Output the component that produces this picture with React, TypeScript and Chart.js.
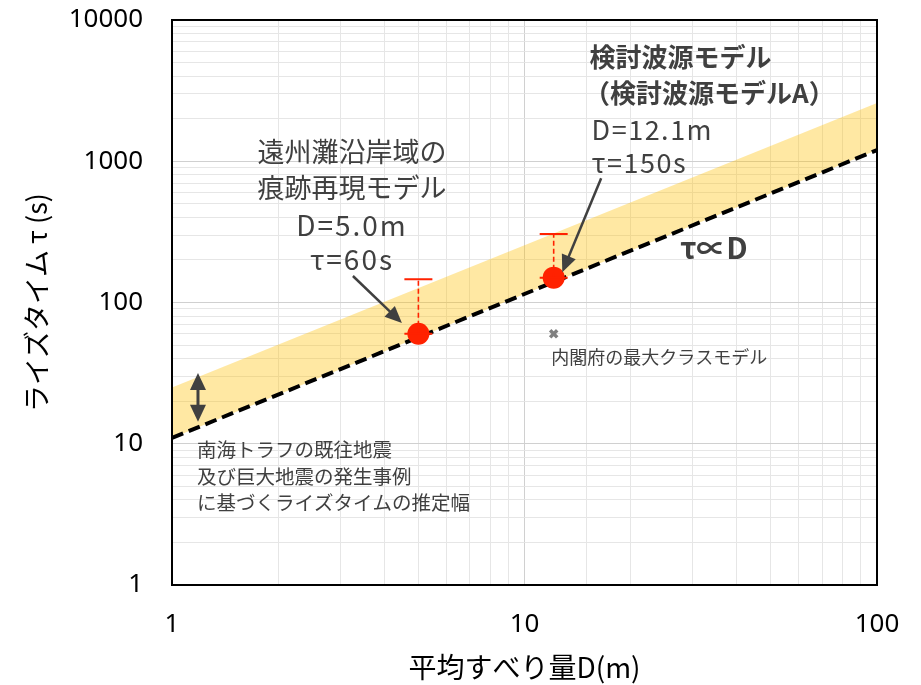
import { useEffect, useRef } from 'react';
import { Chart, registerables } from 'chart.js';

Chart.register(...registerables);

// ---- axis ranges / ticks ----
const xRange = [1, 100];
const yRange = [1, 10000];
const majorTickValues = [1, 10, 100, 1000, 10000];

// ---- proportional relation τ ∝ D (dashed line) ----
const proportionalD = [1, 100];
const proportionalTau = [11, 1200];
// ---- upper edge of the estimated rise-time band ----
const bandUpperTau = [25, 2580];

// ---- models (red points) ----
const modelD = [5.0, 12.1];
const modelTau = [60, 150];
const modelTauHigh = [146, 305];

// ---- Cabinet Office max-class model (grey cross) ----
const cabinetD = [12.1];
const cabinetTau = [60];

const TEXT = '#404040';
const CJK = "'Noto Sans CJK JP', 'Noto Sans', sans-serif";
const NUM = "'Noto Sans', 'Liberation Sans', sans-serif";

type Block = { lines: string[]; at: [number, number]; align: CanvasTextAlign; font: string; lh: number; ls?: string };
const textBlocks: Block[] = [
  { lines: ['遠州灘沿岸域の', '痕跡再現モデル'], at: [3.24, 1159], align: 'center', font: `27px ${CJK}`, lh: 35.3 },
  { lines: ['D=5.0m', 'τ=60s'], at: [3.24, 353], align: 'center', font: `28px ${CJK}`, lh: 34, ls: '2px' },
  { lines: ['検討波源モデル'], at: [15.3, 5457], align: 'left', font: `bold 26px ${CJK}`, lh: 36 },
  { lines: ['（検討波源モデルA）'], at: [14.75, 3034], align: 'left', font: `bold 26px ${CJK}`, lh: 36 },
  { lines: ['D=12.1m', 'τ=150s'], at: [15.5, 1660], align: 'left', font: `27px ${CJK}`, lh: 33, ls: '1.5px' },
  { lines: ['τ∝D'], at: [27.6, 243], align: 'left', font: `bold 30px ${CJK}`, lh: 30 },
  { lines: ['南海トラフの既往地震', '及び巨大地震の発生事例', 'に基づくライズタイムの推定幅'], at: [1.177, 9.02], align: 'left', font: `19.5px ${CJK}`, lh: 26.5 },
  { lines: ['内閣府の最大クラスモデル'], at: [11.9, 41.1], align: 'left', font: `18px ${CJK}`, lh: 18 },
];

type Arrow = { from: [number, number]; to: [number, number]; both: boolean };
const arrows: Arrow[] = [
  { from: [3.26, 154], to: [4.49, 71.5], both: false },
  { from: [16.5, 759], to: [12.8, 164], both: false },
  { from: [1.185, 14.3], to: [1.185, 31.7], both: true },
];

function head(ctx: CanvasRenderingContext2D, tx: number, ty: number, ang: number, len: number, w: number) {
  ctx.beginPath();
  ctx.moveTo(tx, ty);
  ctx.lineTo(tx - len * Math.cos(ang) + (w / 2) * Math.sin(ang), ty - len * Math.sin(ang) - (w / 2) * Math.cos(ang));
  ctx.lineTo(tx - len * Math.cos(ang) - (w / 2) * Math.sin(ang), ty - len * Math.sin(ang) + (w / 2) * Math.cos(ang));
  ctx.closePath();
  ctx.fill();
}

const overlay = {
  id: 'overlay',
  afterDatasetsDraw(chart: any) {
    const { ctx, scales } = chart;
    const x = scales.x, y = scales.y;
    ctx.save();
    ctx.strokeStyle = '#FF2200';
    for (let i = 0; i < modelD.length; i++) {
      const px = x.getPixelForValue(modelD[i]);
      const p0 = y.getPixelForValue(modelTau[i]);
      const p1 = y.getPixelForValue(modelTauHigh[i]);
      ctx.setLineDash([5, 3]);
      ctx.lineWidth = 1.6;
      ctx.beginPath();
      ctx.moveTo(px, p0);
      ctx.lineTo(px, p1);
      ctx.stroke();
      ctx.setLineDash([]);
      ctx.lineWidth = 2;
      ctx.beginPath();
      ctx.moveTo(px - 14, p1);
      ctx.lineTo(px + 14, p1);
      ctx.moveTo(px - 14, p0);
      ctx.lineTo(px + 14, p0);
      ctx.stroke();
    }
    ctx.restore();
  },
  afterDraw(chart: any) {
    const { ctx, scales, chartArea } = chart;
    const x = scales.x, y = scales.y;
    ctx.save();
    ctx.fillStyle = TEXT;
    ctx.textBaseline = 'middle';
    for (const b of textBlocks) {
      ctx.font = b.font;
      ctx.textAlign = b.align;
      (ctx as any).letterSpacing = b.ls || '0px';
      const bx = x.getPixelForValue(b.at[0]);
      const by = y.getPixelForValue(b.at[1]);
      b.lines.forEach((l, i) => ctx.fillText(l, bx, by + i * b.lh));
    }
    (ctx as any).letterSpacing = '0px';
    ctx.strokeStyle = TEXT;
    ctx.fillStyle = TEXT;
    for (const a of arrows) {
      const x1 = x.getPixelForValue(a.from[0]);
      const y1 = y.getPixelForValue(a.from[1]);
      const x2 = x.getPixelForValue(a.to[0]);
      const y2 = y.getPixelForValue(a.to[1]);
      const ang = Math.atan2(y2 - y1, x2 - x1);
      const len = 17;
      const w = a.both ? 16 : 15;
      ctx.lineWidth = a.both ? 3 : 2.5;
      ctx.beginPath();
      ctx.moveTo(x1 + (a.both ? len * 0.8 * Math.cos(ang) : 0), y1 + (a.both ? len * 0.8 * Math.sin(ang) : 0));
      ctx.lineTo(x2 - len * 0.8 * Math.cos(ang), y2 - len * 0.8 * Math.sin(ang));
      ctx.stroke();
      head(ctx, x2, y2, ang, len, w);
      if (a.both) head(ctx, x1, y1, ang + Math.PI, len, w);
    }
    ctx.strokeStyle = '#000';
    ctx.lineWidth = 2;
    ctx.strokeRect(chartArea.left, chartArea.top, chartArea.right - chartArea.left, chartArea.bottom - chartArea.top);
    ctx.restore();
  },
};

const isMajor = (v: number) => Math.abs(Math.log10(v) - Math.round(Math.log10(v))) < 1e-9;

export default function App() {
  const ref = useRef<HTMLCanvasElement>(null);
  useEffect(() => {
    if (!ref.current) return;
    const chart = new Chart(ref.current, {
      type: 'scatter',
      data: {
        datasets: [
          {
            label: 'models',
            data: modelD.map((d, i) => ({ x: d, y: modelTau[i] })),
            backgroundColor: '#FF2200',
            borderWidth: 0,
            pointRadius: 11,
            pointHoverRadius: 11,
          },
          {
            label: '内閣府の最大クラスモデル',
            data: cabinetD.map((d, i) => ({ x: d, y: cabinetTau[i] })),
            pointStyle: 'crossRot',
            borderColor: '#808080',
            borderWidth: 3.5,
            pointRadius: 5,
          },
          {
            label: 'τ∝D',
            data: proportionalD.map((d, i) => ({ x: d, y: proportionalTau[i] })),
            showLine: true,
            borderColor: '#000',
            borderWidth: 4,
            borderDash: [12, 6],
            pointRadius: 0,
            fill: false,
          },
          {
            label: 'band',
            data: proportionalD.map((d, i) => ({ x: d, y: bandUpperTau[i] })),
            showLine: true,
            borderWidth: 0,
            borderColor: 'rgba(0,0,0,0)',
            backgroundColor: 'rgba(255, 192, 0, 0.36)',
            pointRadius: 0,
            fill: 2,
          },
        ],
      },
      options: {
        animation: false,
        responsive: false,
        events: [],
        layout: { padding: { top: 20, right: 44, left: 0, bottom: 0 } },
        plugins: { legend: { display: false }, tooltip: { enabled: false } },
        scales: {
          x: {
            type: 'logarithmic',
            min: xRange[0],
            max: xRange[1],
            afterFit: (s: any) => { s.height = 100; s.paddingLeft = 0; s.paddingRight = 0; },
            grid: {
              drawTicks: false,
              color: (c: any) => (c.tick && isMajor(c.tick.value) ? '#D0D0D0' : '#E6E6E6'),
              lineWidth: 1,
            },
            border: { display: false },
            ticks: {
              autoSkip: false,
              maxRotation: 0,
              padding: 24,
              color: '#000',
              font: { family: NUM, size: 26 },
              callback: (v: any) => (isMajor(Number(v)) ? String(Number(v)) : ''),
            },
            title: {
              display: true,
              text: '平均すべり量D(m)',
              color: '#000',
              font: { family: CJK, size: 28 },
              padding: { top: 0, bottom: 1 },
            },
          },
          y: {
            type: 'logarithmic',
            min: yRange[0],
            max: yRange[1],
            afterFit: (s: any) => { s.width = 172; s.paddingTop = 0; s.paddingBottom = 0; },
            afterBuildTicks: (s: any) => {
              const t: any[] = [];
              for (let e = 0; e < 4; e++) for (let m = 1; m < 10; m++) t.push({ value: m * Math.pow(10, e) });
              t.push({ value: 10000 });
              s.ticks = t;
            },
            grid: {
              drawTicks: false,
              color: (c: any) => (c.tick && isMajor(c.tick.value) ? '#D0D0D0' : '#E6E6E6'),
              lineWidth: 1,
            },
            border: { display: false },
            ticks: {
              autoSkip: false,
              padding: 29,
              color: '#000',
              font: { family: NUM, size: 26 },
              callback: (v: any) => (majorTickValues.includes(Number(v)) ? String(Number(v)) : ''),
            },
            title: {
              display: true,
              text: 'ライズタイム τ (s)',
              color: '#000',
              font: { family: CJK, size: 27 },
              padding: { top: 21, bottom: 0 },
            },
          },
        },
      },
      plugins: [overlay],
    } as any);
    return () => chart.destroy();
  }, []);
  return (
    <div style={{ position: 'absolute', left: 0, top: 0, width: 921, height: 685, background: '#fff' }}>
      <canvas ref={ref} width={921} height={685} style={{ display: 'block' }} />
    </div>
  );
}
